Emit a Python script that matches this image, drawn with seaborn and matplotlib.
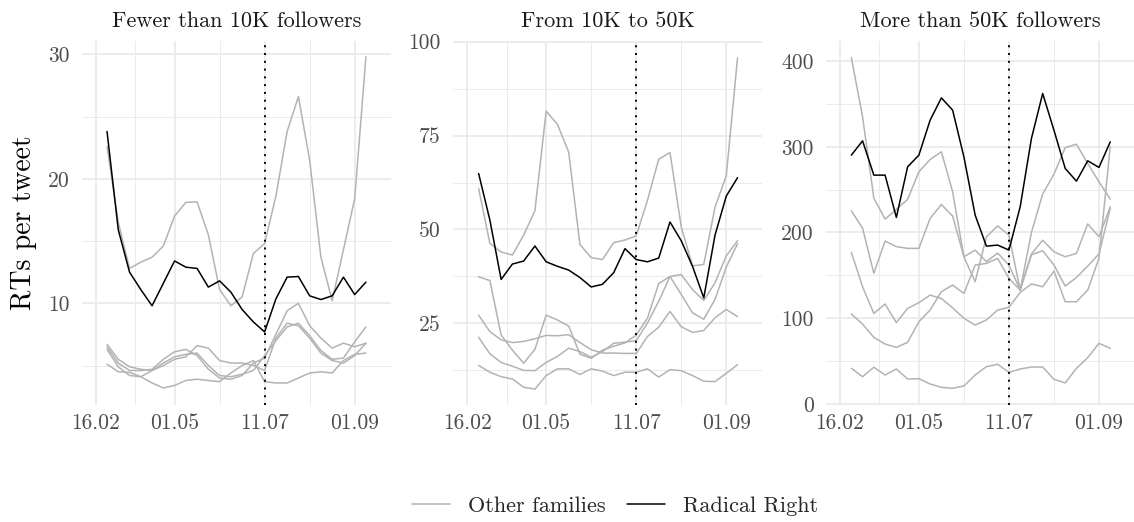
import matplotlib
matplotlib.use("Agg")
import matplotlib.pyplot as plt
from matplotlib.lines import Line2D
import seaborn as sns
import pandas as pd
import numpy as np

# ---------------- data ----------------
periods = list(range(24))
tick_pos = [-1, 6, 14, 22]
tick_labels = ["16.02", "01.05", "11.07", "01.09"]
minor_x = [2.5, 10, 18]
cutoff = 14

panel_titles = ["Fewer than 10K followers", "From 10K to 50K", "More than 50K followers"]

# Panel 1: fewer than 10K
p1_rr = [23.8, 15.9, 12.5, 11.1, 9.8, 11.6, 13.4, 12.9, 12.8, 11.3, 11.8, 10.9,
         9.5, 8.5, 7.7, 10.35, 12.1, 12.15, 10.6, 10.3, 10.6, 12.1, 10.7, 11.7]
p1_o1 = [22.6, 16.5, 12.8, 13.3, 13.7, 14.6, 17.0, 18.1, 18.15, 15.5, 11.1, 9.8,
         10.5, 14.0, 14.8, 18.6, 23.8, 26.6, 21.5, 13.7, 10.2, 14.3, 18.4, 29.8]
p1_o2 = [5.1, 4.5, 4.45, 4.1, 3.6, 3.2, 3.4, 3.8, 3.9, 3.8, 3.7, 4.4,
         5.0, 5.4, 3.7, 3.6, 3.6, 4.0, 4.4, 4.5, 4.4, 5.4, 5.9, 6.0]
p1_o3 = [6.7, 5.5, 4.9, 4.7, 4.6, 5.0, 5.5, 5.7, 6.6, 6.4, 5.4, 5.2,
         5.2, 5.0, 4.6, 7.2, 8.4, 8.2, 7.2, 6.0, 5.4, 5.2, 5.8, 6.8]
p1_o4 = [6.5, 5.2, 4.6, 4.6, 4.7, 5.5, 6.1, 6.3, 5.8, 4.7, 4.0, 3.9,
         4.2, 5.2, 5.6, 7.5, 9.4, 10.0, 8.2, 7.2, 6.4, 6.8, 6.5, 6.8]
p1_o5 = [6.3, 4.9, 4.2, 4.1, 4.6, 5.2, 5.7, 5.9, 6.0, 5.0, 4.2, 4.1,
         4.3, 4.6, 5.8, 7.0, 8.1, 8.4, 7.4, 6.2, 5.5, 5.6, 6.9, 8.1]

# Panel 2: 10K to 50K
p2_rr = [64.9, 52.5, 36.7, 40.8, 41.6, 45.6, 41.4, 40.2, 39.2, 37.2, 34.7, 35.4,
         38.5, 44.9, 42.0, 41.4, 42.4, 52.0, 47.0, 40.2, 31.8, 48.5, 58.9, 63.8]
p2_o1 = [60.9, 46.3, 44.0, 43.2, 48.5, 55.0, 81.5, 78.0, 70.6, 46.0, 42.5, 42.0,
         46.5, 47.2, 48.3, 57.8, 68.7, 70.5, 50.7, 40.3, 40.7, 56.0, 64.3, 95.7]
p2_o2 = [37.4, 36.4, 21.9, 17.9, 14.4, 18.1, 27.2, 25.9, 24.3, 16.8, 15.7, 17.9,
         18.9, 19.8, 21.9, 26.4, 35.6, 37.5, 38.0, 34.0, 31.1, 35.8, 43.0, 47.0]
p2_o3 = [27.2, 22.8, 20.6, 19.9, 20.2, 20.9, 21.8, 21.7, 22.0, 19.9, 18.0, 17.1,
         17.1, 17.0, 17.0, 21.5, 24.0, 28.2, 24.1, 22.6, 23.1, 26.5, 28.7, 26.8]
p2_o4 = [21.3, 16.9, 14.6, 13.6, 12.5, 12.4, 14.6, 16.2, 18.4, 17.5, 16.0, 17.5,
         19.7, 20.0, 20.4, 25.1, 30.9, 37.5, 32.7, 27.8, 26.1, 31.4, 40.0, 46.2]
p2_o5 = [13.8, 12.0, 10.8, 10.2, 8.0, 7.5, 11.1, 12.9, 12.9, 11.4, 12.9, 12.3,
         11.1, 12.0, 12.0, 12.9, 10.7, 12.7, 12.4, 11.1, 9.6, 9.5, 11.7, 14.0]

# Panel 3: more than 50K
p3_rr = [290.2, 306.9, 266.9, 266.9, 217.6, 276.6, 290.2, 331.0, 357.0, 342.7, 288.2, 220.3,
         184.1, 185.3, 179.5, 230.0, 309.7, 362.1, 319.3, 274.7, 259.9, 283.6, 275.9, 305.7]
p3_o1 = [404.0, 335.0, 240.0, 215.6, 227.0, 238.6, 270.8, 285.2, 294.2, 247.5, 171.7, 142.6,
         195.0, 207.6, 197.0, 132.8, 200.0, 245.0, 268.0, 299.0, 303.0, 280.5, 259.0, 239.0]
p3_o2 = [225.3, 204.9, 152.4, 190.0, 183.5, 181.5, 181.5, 216.4, 232.7, 219.1, 171.7, 179.4,
         166.0, 176.0, 162.0, 133.0, 175.0, 191.0, 177.5, 171.7, 175.6, 210.0, 195.0, 230.0]
p3_o3 = [176.8, 136.7, 105.6, 116.5, 94.8, 111.5, 118.1, 127.0, 123.0, 112.0, 100.0, 92.0,
         98.0, 109.6, 112.8, 130.0, 140.0, 136.7, 155.0, 119.2, 119.2, 132.8, 170.0, 300.0]
p3_o4 = [104.9, 93.2, 77.7, 69.9, 66.0, 71.9, 95.9, 109.6, 130.9, 138.7, 129.0, 162.0,
         164.0, 169.8, 146.5, 132.8, 174.0, 178.7, 162.0, 137.5, 147.6, 160.8, 175.0, 228.0]
p3_o5 = [41.6, 31.8, 42.8, 33.8, 40.8, 29.1, 29.5, 23.3, 19.4, 18.3, 21.0, 33.8,
         43.5, 46.3, 36.9, 40.8, 43.1, 43.1, 28.8, 24.5, 41.6, 54.0, 70.7, 64.9]

panels = [
    {"rr": p1_rr, "others": [p1_o1, p1_o2, p1_o3, p1_o4, p1_o5],
     "yticks": [10, 20, 30], "yminor": [5, 15, 25], "ylim": (1.83, 31.09)},
    {"rr": p2_rr, "others": [p2_o1, p2_o2, p2_o3, p2_o4, p2_o5],
     "yticks": [25, 50, 75, 100], "yminor": [12.5, 37.5, 62.5, 87.5], "ylim": (3.27, 100.27)},
    {"rr": p3_rr, "others": [p3_o1, p3_o2, p3_o3, p3_o4, p3_o5],
     "yticks": [0, 100, 200, 300, 400], "yminor": [50, 150, 250, 350], "ylim": (-1.2, 423.7)},
]

# ---------------- style ----------------
sns.set_theme(style="white")
plt.rcParams["font.family"] = ["cmr10", "DejaVu Serif"]
plt.rcParams["axes.unicode_minus"] = False
plt.rcParams["axes.formatter.use_mathtext"] = True

GREY = "#b3b3b3"
GRID = "#ebebeb"
palette = {"Other families": GREY, "Radical Right": "black"}

W, H = 1134, 522
fig = plt.figure(figsize=(W / 100, H / 100), dpi=100)

lefts = [81.7, 453.3, 826.0]
pw = 309.0
top, bottom = 40.7, 405.0

for k, (pan, title, left) in enumerate(zip(panels, panel_titles, lefts)):
    ax = fig.add_axes([left / W, (H - bottom) / H, pw / W, (bottom - top) / H])
    rows = []
    for j, series in enumerate(pan["others"]):
        for x, v in zip(periods, series):
            rows.append({"x": x, "value": v, "line": f"o{j}", "family": "Other families"})
    for x, v in zip(periods, pan["rr"]):
        rows.append({"x": x, "value": v, "line": "rr", "family": "Radical Right"})
    df = pd.DataFrame(rows)

    # grid
    for yv in pan["yminor"]:
        ax.axhline(yv, color=GRID, lw=0.7, zorder=0)
    for yv in pan["yticks"]:
        ax.axhline(yv, color=GRID, lw=1.3, zorder=0)
    for xv in minor_x:
        ax.axvline(xv, color=GRID, lw=0.7, zorder=0)
    for xv in tick_pos:
        ax.axvline(xv, color=GRID, lw=1.3, zorder=0)

    sns.lineplot(data=df, x="x", y="value", hue="family", units="line",
                 estimator=None, palette=palette, hue_order=["Other families", "Radical Right"],
                 linewidth=1.1, legend=False, ax=ax, zorder=3)

    ax.axvline(cutoff, color="black", lw=1.4, ls=(0, (1, 3.0)), zorder=4)

    ax.set_xlim(-2.25, 25.2)
    ax.set_ylim(*pan["ylim"])
    ax.set_xticks(tick_pos)
    ax.set_xticklabels(tick_labels)
    ax.set_yticks(pan["yticks"])
    ax.set_yticklabels([str(t) for t in pan["yticks"]])
    ax.tick_params(axis="both", length=0, labelsize=15.5, colors="#4d4d4d")
    ax.tick_params(axis="x", pad=6)
    ax.tick_params(axis="y", pad=9)
    ax.set_xlabel("")
    ax.set_ylabel("")
    ax.grid(False)
    for s in ax.spines.values():
        s.set_visible(False)
    ax.set_facecolor("none")
    ax.set_title(title, fontsize=16, color="#1a1a1a", pad=10)

fig.text(24 / W, 1 - 222.9 / H, "RTs per tweet", rotation=90, ha="center", va="center",
         fontsize=20, color="black")

handles = [Line2D([], [], color=GREY, lw=1.1), Line2D([], [], color="black", lw=1.1)]
fig.legend(handles, ["Other families", "Radical Right"], loc="center",
           bbox_to_anchor=(615 / W, 16 / H), ncol=2, frameon=False, fontsize=16,
           handlelength=1.7, handletextpad=0.8, columnspacing=1.0,
           borderpad=0.0, borderaxespad=0.0)

fig.savefig("out.png", dpi=100)
